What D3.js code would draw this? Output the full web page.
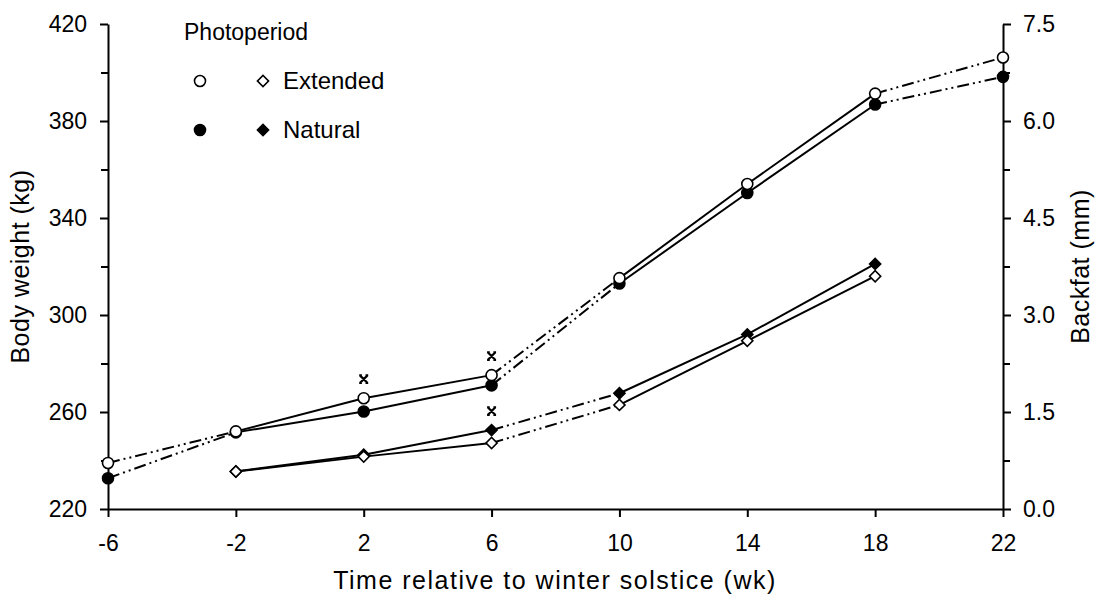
<!DOCTYPE html>
<html>
<head>
<meta charset="utf-8">
<script src="https://cdn.jsdelivr.net/npm/d3@7"></script>
<style>
  body { margin: 0; background: #fff; }
  svg { display: block; font-family: "Liberation Sans", Arial, sans-serif; }
</style>
</head>
<body>
<svg width="1095" height="601"></svg>
<script>
// недели относительно зимнего солнцестояния
const weeksWeight = [-6, -2, 2, 6, 10, 14, 18, 22];
const weightExtended = [239, 252, 265.7, 275.2, 315.2, 354, 391.3, 406.2];
const weightNatural = [232.7, 251.6, 260.2, 271, 313, 350.3, 386.8, 398.2];
// стиль отрезка между соседними точками
const weightSegments = ['dash', 'solid', 'solid', 'dash', 'solid', 'solid', 'dash'];

const weeksFat = [-2, 2, 6, 10, 14, 18];
const fatExtended = [0.58, 0.81, 1.02, 1.61, 2.6, 3.6];
const fatNatural = [0.58, 0.84, 1.22, 1.79, 2.7, 3.79];
const fatSegments = ['solid', 'solid', 'dash', 'solid', 'solid'];

// отметки значимых различий: неделя и шкала
const marks = [
    { week: 2, axis: 'weight' },
    { week: 6, axis: 'weight' },
    { week: 6, axis: 'fat' }
];

const xTicks = [-6, -2, 2, 6, 10, 14, 18, 22];
const leftTicks = [220, 260, 300, 340, 380, 420];
const leftMinor = [240, 280, 320, 360, 400];
const rightTicks = [0, 1.5, 3, 4.5, 6, 7.5];
const rightMinor = [0.75, 2.25, 3.75, 5.25, 6.75];

const svg = d3.select("svg");

const area = { left: 108, right: 1003, top: 24, bottom: 509 };

const scX = d3.scaleLinear().domain([-6, 22]).range([area.left, area.right]);
const scW = d3.scaleLinear().domain([220, 420]).range([area.bottom, area.top]);
const scF = d3.scaleLinear().domain([0, 7.5]).range([area.bottom, area.top]);

function styleAxis(g, fontSize) {
    g.selectAll("path, line").attr("stroke", "#000").attr("stroke-width", 2);
    g.selectAll("text").attr("font-size", fontSize).attr("fill", "#000")
        .attr("font-family", "Liberation Sans, Arial, sans-serif");
}

// оси
svg.append("g")
    .attr("transform", `translate(0, ${area.bottom})`)
    .call(d3.axisBottom(scX).tickValues(xTicks).tickSize(8).tickSizeOuter(0).tickPadding(18)
        .tickFormat(d => String(d)))
    .call(g => styleAxis(g, 23));

svg.append("g")
    .attr("transform", `translate(${area.left}, 0)`)
    .call(d3.axisLeft(scW).tickValues(leftTicks).tickSize(8).tickSizeOuter(0).tickPadding(13))
    .call(g => styleAxis(g, 23));

svg.append("g")
    .attr("transform", `translate(${area.left}, 0)`)
    .call(d3.axisLeft(scW).tickValues(leftMinor).tickSize(7).tickFormat(""))
    .call(g => styleAxis(g, 23))
    .select(".domain").remove();

svg.append("g")
    .attr("transform", `translate(${area.right}, 0)`)
    .call(d3.axisRight(scF).tickValues(rightTicks).tickSize(8).tickSizeOuter(0).tickPadding(12)
        .tickFormat(d3.format(".1f")))
    .call(g => styleAxis(g, 23));

svg.append("g")
    .attr("transform", `translate(${area.right}, 0)`)
    .call(d3.axisRight(scF).tickValues(rightMinor).tickSize(7).tickFormat(""))
    .call(g => styleAxis(g, 23))
    .select(".domain").remove();

// подписи осей
svg.append("text")
    .attr("x", 555)
    .attr("y", 589)
    .attr("text-anchor", "middle")
    .attr("font-size", 25)
    .attr("letter-spacing", 1.5)
    .text("Time relative to winter solstice (wk)");

svg.append("text")
    .attr("transform", `translate(29, ${(area.top + area.bottom) / 2}) rotate(-90)`)
    .attr("text-anchor", "middle")
    .attr("font-size", 25)
    .attr("letter-spacing", 0.5)
    .text("Body weight (kg)");

svg.append("text")
    .attr("transform", `translate(1089, ${(area.top + area.bottom) / 2}) rotate(-90)`)
    .attr("text-anchor", "middle")
    .attr("font-size", 25)
    .attr("letter-spacing", 0.5)
    .text("Backfat (mm)");

// линии
const dashPattern = "12,4,2,4,2,4";

function drawSegments(weeks, values, scY, segments) {
    for (let i = 0; i < segments.length; i++) {
        svg.append("line")
            .attr("x1", scX(weeks[i]))
            .attr("y1", scY(values[i]))
            .attr("x2", scX(weeks[i + 1]))
            .attr("y2", scY(values[i + 1]))
            .attr("stroke", "#000")
            .attr("stroke-width", 2)
            .attr("stroke-dasharray", segments[i] === 'dash' ? dashPattern : null);
    }
}

drawSegments(weeksWeight, weightExtended, scW, weightSegments);
drawSegments(weeksWeight, weightNatural, scW, weightSegments);
drawSegments(weeksFat, fatExtended, scF, fatSegments);
drawSegments(weeksFat, fatNatural, scF, fatSegments);

// маркеры
const diamond = d3.symbol().type(d3.symbolSquare).size(62);

function drawCircles(weeks, values, filled) {
    svg.append("g").selectAll("circle")
        .data(weeks.map((w, i) => [w, values[i]])).enter()
        .append("circle")
        .attr("cx", d => scX(d[0]))
        .attr("cy", d => scW(d[1]))
        .attr("r", 5.5)
        .attr("fill", filled ? "#000" : "#fff")
        .attr("stroke", "#000")
        .attr("stroke-width", 1.6);
}

function drawDiamonds(weeks, values, filled) {
    svg.append("g").selectAll("path")
        .data(weeks.map((w, i) => [w, values[i]])).enter()
        .append("path")
        .attr("d", diamond)
        .attr("transform", d => `translate(${scX(d[0])}, ${scF(d[1])}) rotate(45)`)
        .attr("fill", filled ? "#000" : "#fff")
        .attr("stroke", "#000")
        .attr("stroke-width", 1.6);
}

drawCircles(weeksWeight, weightNatural, true);
drawCircles(weeksWeight, weightExtended, false);
drawDiamonds(weeksFat, fatNatural, true);
drawDiamonds(weeksFat, fatExtended, false);

// отметки значимости
const markPath = "M-3.8,-3.8L3.8,3.8M3.8,-3.8L-3.8,3.8M-4.5,-3.8H-1.8M1.8,-3.8H4.5M-4.5,3.8H-1.8M1.8,3.8H4.5";

svg.append("g").selectAll("path")
    .data(marks).enter()
    .append("path")
    .attr("d", markPath)
    .attr("transform", d => {
        let y;
        if (d.axis === 'weight') {
            const i = weeksWeight.indexOf(d.week);
            y = scW(Math.max(weightExtended[i], weightNatural[i]));
        } else {
            const i = weeksFat.indexOf(d.week);
            y = scF(Math.max(fatExtended[i], fatNatural[i]));
        }
        return `translate(${scX(d.week)}, ${y - 19})`;
    })
    .attr("fill", "none")
    .attr("stroke", "#000")
    .attr("stroke-width", 2.2);

// легенда
const legend = svg.append("g");

legend.append("text")
    .attr("x", 184)
    .attr("y", 40)
    .attr("font-size", 23)
    .text("Photoperiod");

const legendRows = [
    { label: "Extended", filled: false, y: 81 },
    { label: "Natural", filled: true, y: 130 }
];

legendRows.forEach(row => {
    legend.append("circle")
        .attr("cx", 200)
        .attr("cy", row.y)
        .attr("r", 5.5)
        .attr("fill", row.filled ? "#000" : "#fff")
        .attr("stroke", "#000")
        .attr("stroke-width", 1.6);
    legend.append("path")
        .attr("d", diamond)
        .attr("transform", `translate(263, ${row.y}) rotate(45)`)
        .attr("fill", row.filled ? "#000" : "#fff")
        .attr("stroke", "#000")
        .attr("stroke-width", 1.6);
    legend.append("text")
        .attr("x", 283)
        .attr("y", row.y + 8)
        .attr("font-size", 24)
        .text(row.label);
});
</script>
</body>
</html>
